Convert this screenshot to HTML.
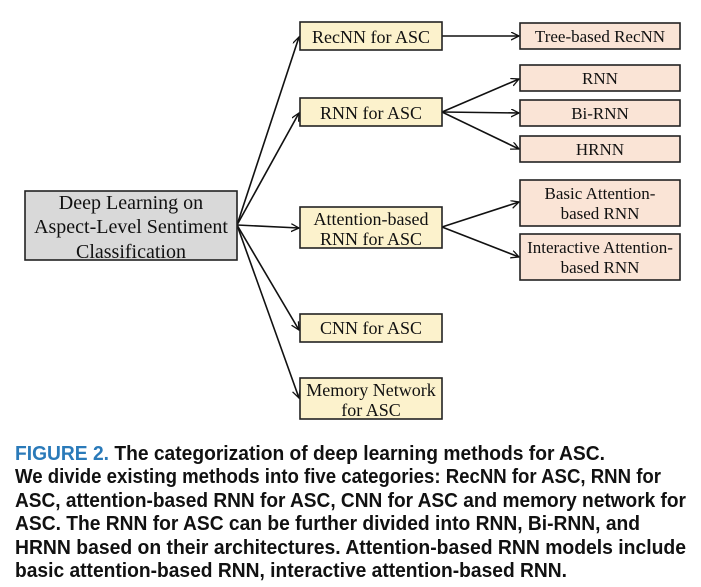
<!DOCTYPE html>
<html><head><meta charset="utf-8"><style>
html,body{margin:0;padding:0;background:#fff;width:701px;height:587px;overflow:hidden}
</style></head><body>
<svg width="701" height="587" viewBox="0 0 701 587" xmlns="http://www.w3.org/2000/svg" font-family="'Liberation Serif', serif">
<defs><marker id="a" markerWidth="10" markerHeight="10" refX="8" refY="4" orient="auto" markerUnits="userSpaceOnUse"><path d="M0,0 L8,4 L0,8" fill="none" stroke="#111" stroke-width="1.3"/></marker></defs>
<g stroke="#111" stroke-width="1.6" fill="none" marker-end="url(#a)">
<line x1="237" y1="225" x2="299" y2="37"/>
<line x1="237" y1="225" x2="299" y2="113"/>
<line x1="237" y1="225" x2="299" y2="228"/>
<line x1="237" y1="225" x2="299" y2="330"/>
<line x1="237" y1="225" x2="299" y2="398"/>
<line x1="442" y1="36" x2="519" y2="36"/>
<line x1="442" y1="112" x2="519" y2="79"/>
<line x1="442" y1="112" x2="519" y2="113"/>
<line x1="442" y1="112" x2="519" y2="149"/>
<line x1="442" y1="227" x2="519" y2="202"/>
<line x1="442" y1="227" x2="519" y2="257"/>
</g>
<g stroke="#222" stroke-width="1.6">
<rect x="25" y="191" width="212" height="69" fill="#d9d9d9"/>
<rect x="300" y="22" width="142" height="28" fill="#fcf2cc"/>
<rect x="300" y="98" width="142" height="28" fill="#fcf2cc"/>
<rect x="300" y="207" width="142" height="41" fill="#fcf2cc"/>
<rect x="300" y="314" width="142" height="28" fill="#fcf2cc"/>
<rect x="300" y="378" width="142" height="41" fill="#fcf2cc"/>
<rect x="520" y="23" width="160" height="26" fill="#fae4d6"/>
<rect x="520" y="65" width="160" height="26" fill="#fae4d6"/>
<rect x="520" y="100" width="160" height="26" fill="#fae4d6"/>
<rect x="520" y="136" width="160" height="26" fill="#fae4d6"/>
<rect x="520" y="180" width="160" height="46" fill="#fae4d6"/>
<rect x="520" y="234" width="160" height="46" fill="#fae4d6"/>
</g>
<g fill="#111" text-anchor="middle">
<text x="131" y="209" font-size="20">Deep Learning on</text>
<text x="131" y="233" font-size="20">Aspect-Level Sentiment</text>
<text x="131" y="258" font-size="20">Classification</text>
<text x="371" y="43" font-size="18">RecNN for ASC</text>
<text x="371" y="119" font-size="18">RNN for ASC</text>
<text x="371" y="225" font-size="18">Attention-based</text>
<text x="371" y="245" font-size="18">RNN for ASC</text>
<text x="371" y="334" font-size="18">CNN for ASC</text>
<text x="371" y="396" font-size="18">Memory Network</text>
<text x="371" y="416" font-size="18">for ASC</text>
<text x="600" y="42" font-size="17">Tree-based RecNN</text>
<text x="600" y="84" font-size="17">RNN</text>
<text x="600" y="119" font-size="17">Bi-RNN</text>
<text x="600" y="155" font-size="17">HRNN</text>
<text x="600" y="199" font-size="17">Basic Attention-</text>
<text x="600" y="219" font-size="17">based RNN</text>
<text x="600" y="253" font-size="17">Interactive Attention-</text>
<text x="600" y="273" font-size="17">based RNN</text>
</g>
<g font-family="'Liberation Sans Narrow','Liberation Sans',sans-serif" font-weight="bold" font-size="20" fill="#111">
<text x="15" y="460" textLength="590" lengthAdjust="spacingAndGlyphs"><tspan fill="#2a7ab9">FIGURE 2.</tspan>  The categorization of deep learning methods for ASC.</text>
<text x="15" y="483" textLength="646" lengthAdjust="spacingAndGlyphs">We divide existing methods into five categories: RecNN for ASC, RNN for</text>
<text x="15" y="507" textLength="671" lengthAdjust="spacingAndGlyphs">ASC, attention-based RNN for ASC, CNN for ASC and memory network for</text>
<text x="15" y="530" textLength="625" lengthAdjust="spacingAndGlyphs">ASC. The RNN for ASC can be further divided into RNN, Bi-RNN, and</text>
<text x="15" y="554" textLength="671" lengthAdjust="spacingAndGlyphs">HRNN based on their architectures. Attention-based RNN models include</text>
<text x="15" y="577" textLength="552" lengthAdjust="spacingAndGlyphs">basic attention-based RNN, interactive attention-based RNN.</text>
</g>
</svg>
</body></html>
